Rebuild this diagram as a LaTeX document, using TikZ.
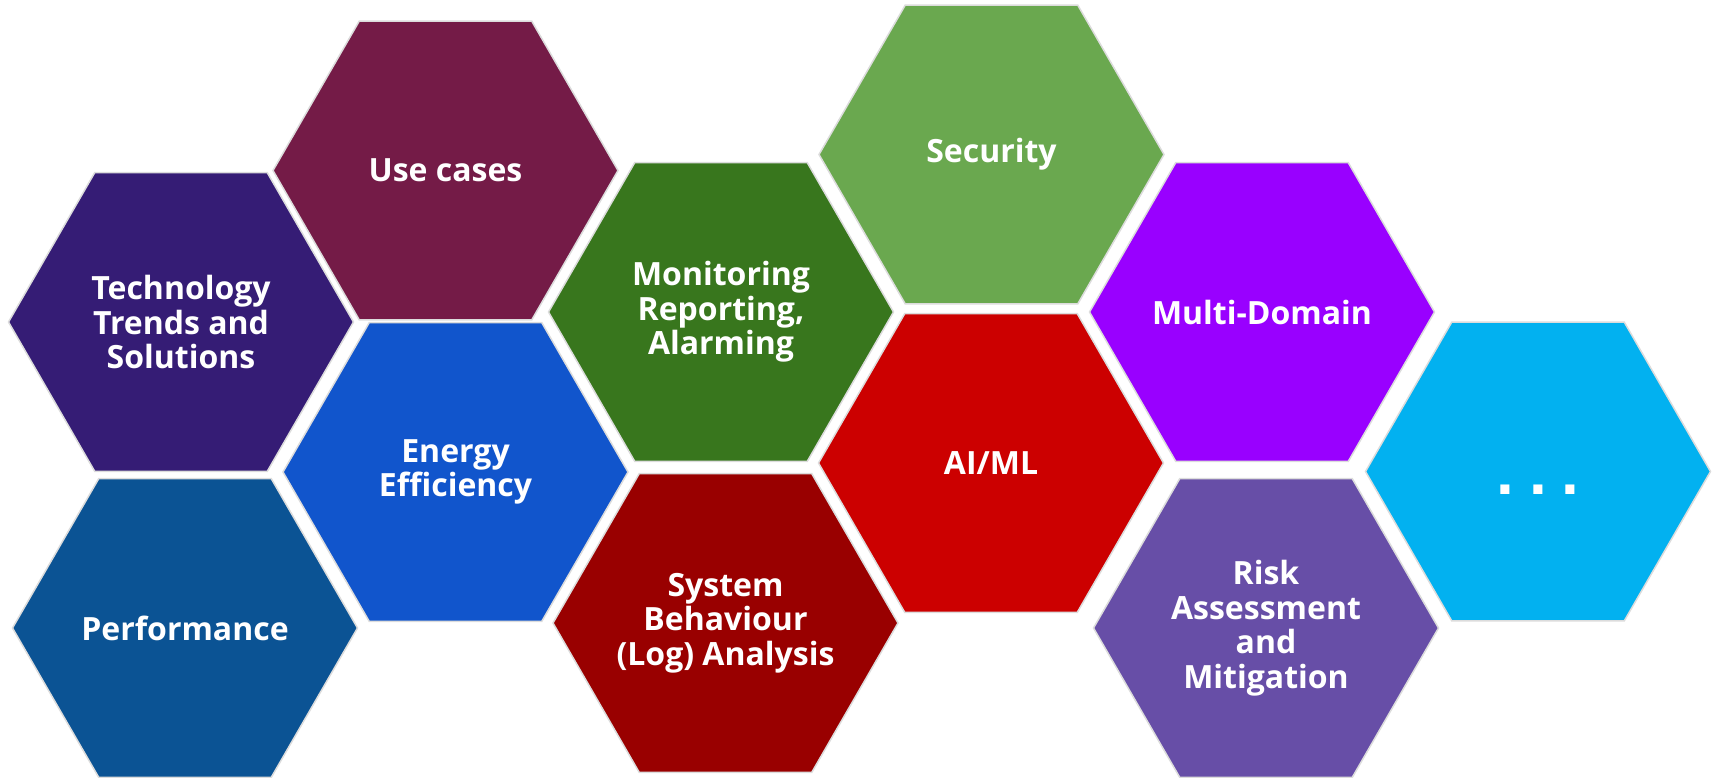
\documentclass[tikz,border=0pt]{standalone}
\usepackage{fontspec}
\setmainfont{Open Sans}
\newfontfamily\dotfont{Liberation Sans}
\usetikzlibrary{shapes.geometric}
\definecolor{cTech}{HTML}{351C75}
\definecolor{cUse}{HTML}{741B47}
\definecolor{cPerf}{HTML}{0B5394}
\definecolor{cEnergy}{HTML}{1155CC}
\definecolor{cMon}{HTML}{38761D}
\definecolor{cSys}{HTML}{990000}
\definecolor{cSec}{HTML}{6AA84F}
\definecolor{cAI}{HTML}{CC0000}
\definecolor{cMulti}{HTML}{9900FF}
\definecolor{cRisk}{HTML}{674EA7}
\definecolor{cMore}{HTML}{02B1F0}
\definecolor{cEdge}{HTML}{DCDCDC}
\tikzset{
  hexa/.style={regular polygon, regular polygon sides=6,
    minimum size=345pt, inner sep=0pt, outer sep=0pt, draw=cEdge, line width=1.5pt},
  hexlabel/.style={text=white, align=center, inner sep=0pt,
    font=\fontsize{32}{34.5}\selectfont\bfseries},
  dotlabel/.style={text=white, inner sep=0pt, font=\dotfont\fontsize{64}{64}\selectfont\bfseries}
}
\begin{document}
\begin{tikzpicture}[x=1pt,y=-1pt]
\path[use as bounding box] (0,0) rectangle (1714,777);
\node[hexa, fill=cTech]   (tech)   at (181,322)     {};
\node[hexa, fill=cUse]    (use)    at (445.5,170.5) {};
\node[hexa, fill=cPerf]   (perf)   at (185,628)     {};
\node[hexa, fill=cEnergy] (energy) at (455.5,472)   {};
\node[hexa, fill=cMon]    (mon)    at (721,312)     {};
\node[hexa, fill=cSys]    (sys)    at (725.5,623)   {};
\node[hexa, fill=cSec]    (sec)    at (991.5,154.5) {};
\node[hexa, fill=cAI]     (ai)     at (991,463)     {};
\node[hexa, fill=cMulti]  (multi)  at (1262,312)    {};
\node[hexa, fill=cRisk]   (risk)   at (1266,628)    {};
\node[hexa, fill=cMore]   (more)   at (1538,471.5)  {};
\node[hexlabel] (techtext)   at (tech.center)   {Technology\\Trends and\\Solutions};
\node[hexlabel] (usetext)    at (use.center)    {Use cases};
\node[hexlabel] (perftext)   at (perf.center)   {Performance};
\node[hexlabel] (energytext) at (energy.center) {Energy\\Efficiency};
\node[hexlabel] (montext)    at (mon.center)    {Monitoring\\Reporting,\\Alarming};
\node[hexlabel] (systext)    at (sys.center)    {System\\Behaviour\\(Log) Analysis};
\node[hexlabel] (sectext)    at (sec.center)    {Security};
\node[hexlabel] (aitext)     at (ai.center)     {AI/ML};
\node[hexlabel] (multitext)  at (multi.center)  {Multi-Domain};
\node[hexlabel] (risktext)   at (risk.center)   {Risk\\Assessment\\and\\Mitigation};
\node[dotlabel, anchor=base] (moretext) at ([yshift=-22.5pt]more.center) {.\hspace{14.7pt}.\hspace{14.7pt}.};
\end{tikzpicture}
\end{document}
